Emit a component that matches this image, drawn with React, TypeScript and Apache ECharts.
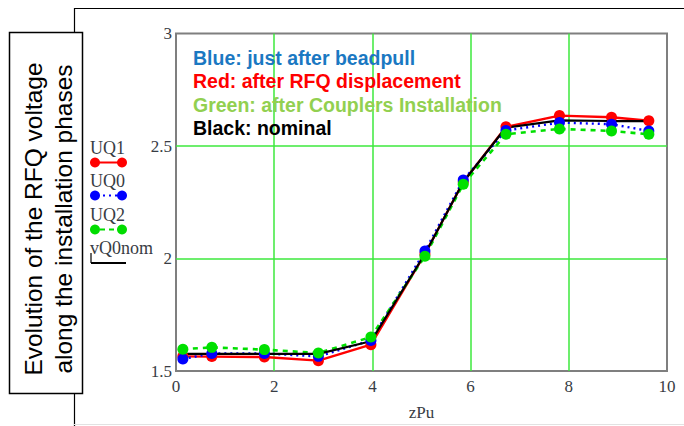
import React, { useEffect, useRef } from "react";
import * as echarts from "echarts";

// Longitudinal positions (zPu) of the measured voltage points
const zPu = [0.14, 0.73, 1.8, 2.9, 3.97, 5.07, 5.85, 6.72, 7.81, 8.87, 9.63];

// Voltage profiles
const UQ1 = [1.565, 1.564, 1.562, 1.546, 1.617, 2.02, 2.34, 2.585, 2.635, 2.628, 2.612];
const UQ0 = [1.553, 1.578, 1.578, 1.565, 1.636, 2.033, 2.349, 2.569, 2.604, 2.597, 2.567];
const UQ2 = [1.597, 1.605, 1.595, 1.58, 1.651, 2.01, 2.33, 2.552, 2.576, 2.567, 2.552];
const vQ0nom = [1.576, 1.576, 1.576, 1.576, 1.632, 2.02, 2.34, 2.582, 2.614, 2.611, 2.611];

// Axis ranges
const xMin = 0, xMax = 10, xStep = 2;
const yMin = 1.5, yMax = 3, yStep = 0.5;

const noteLines = [
  { text: "Blue: just after beadpull", color: "#1a78c2" },
  { text: "Red: after RFQ displacement", color: "#ff0000" },
  { text: "Green: after Couplers Installation", color: "#92d050" },
  { text: "Black: nominal", color: "#000000" },
];

const titleLines = ["Evolution of the RFQ voltage", "along the installation phases"];

const pairs = (ys: number[]) => ys.map((y, i) => [zPu[i], y]);

export default function App() {
  const ref = useRef<HTMLDivElement>(null);

  useEffect(() => {
    if (!ref.current) return;
    const chart = echarts.init(ref.current, null, { renderer: "svg" });
    const serif = "'Liberation Serif', 'DejaVu Serif', serif";
    const tickFont = { fontFamily: serif, fontSize: 17, color: "#383c44" };
    const grid = "#3de83d";

    const legendItems = [
      { name: "UQ1", color: "#ff0000", dash: null as number[] | null, y: 148, dots: true },
      { name: "UQ0", color: "#0000ff", dash: [2, 4], y: 181, dots: true },
      { name: "UQ2", color: "#00dd00", dash: [5, 4], y: 215, dots: true },
      { name: "vQ0nom", color: "#000000", dash: null, y: 248, dots: false },
    ];

    const graphics: any[] = [
      // outer frame
      { type: "line", shape: { x1: 74, y1: 8.5, x2: 684, y2: 8.5 }, style: { stroke: "#000", lineWidth: 1.2 } },
      { type: "line", shape: { x1: 74.5, y1: 8, x2: 74.5, y2: 426 }, style: { stroke: "#000", lineWidth: 1.2 } },
      { type: "line", shape: { x1: 74, y1: 424.5, x2: 684, y2: 424.5 }, style: { stroke: "#e2e2e2", lineWidth: 1 } },
      // title box
      {
        type: "rect",
        shape: { x: 9.5, y: 32.5, width: 73, height: 361 },
        style: { fill: "#fff", stroke: "#000", lineWidth: 1.5 },
      },
      ...titleLines.map((t, i) => ({
        type: "text",
        x: 33 + i * 30,
        y: 219,
        rotation: Math.PI / 2,
        style: {
          text: t,
          fontFamily: "'Liberation Sans', Arial, sans-serif",
          fontSize: 24.5,
          fill: "#000",
          align: "center",
          verticalAlign: "middle",
        },
      })),
    ];

    legendItems.forEach((it) => {
      graphics.push({
        type: "text",
        x: 90,
        y: it.y,
        style: { text: it.name, fontFamily: serif, fontSize: 18, fill: "#383c44", align: "left", verticalAlign: "middle" },
      });
      const ly = it.y + (it.dots ? 14.5 : 15);
      graphics.push({
        type: "line",
        shape: { x1: 91, y1: ly, x2: 126, y2: ly },
        style: { stroke: it.color, lineWidth: 2, lineDash: it.dash || undefined },
      });
      if (it.dots) {
        graphics.push({ type: "circle", shape: { cx: 95, cy: ly, r: 5 }, style: { fill: it.color } });
        graphics.push({ type: "circle", shape: { cx: 122, cy: ly, r: 5 }, style: { fill: it.color } });
      } else {
        graphics.push({
          type: "line",
          shape: { x1: 91, y1: ly - 10, x2: 91, y2: ly },
          style: { stroke: it.color, lineWidth: 1.2 },
        });
      }
    });

    noteLines.forEach((n, i) => {
      graphics.push({
        type: "text",
        x: 193,
        y: 57.5 + i * 23.5,
        z: 10,
        style: {
          text: n.text,
          fontFamily: "'Liberation Sans', Arial, sans-serif",
          fontWeight: "bold",
          fontSize: 19.5,
          fill: n.color,
          align: "left",
          verticalAlign: "middle",
        },
      });
    });

    const mkSeries = (name: string, ys: number[], color: string, type: any, width: number, symbol: boolean) => ({
      name,
      type: "line",
      data: pairs(ys),
      symbol: symbol ? "circle" : "none",
      symbolSize: 11,
      showSymbol: symbol,
      itemStyle: { color },
      lineStyle: { color, width, type },
      emphasis: { disabled: true },
    });

    chart.setOption({
      animation: false,
      grid: {
        left: 176,
        right: 17,
        top: 33.5,
        bottom: 55,
        show: true,
        borderColor: "#7f7f7f",
        borderWidth: 2,
        backgroundColor: "transparent",
      },
      xAxis: {
        type: "value",
        min: xMin,
        max: xMax,
        interval: xStep,
        name: "zPu",
        nameLocation: "middle",
        nameGap: 33,
        nameTextStyle: { ...tickFont, fontSize: 17 },
        axisLine: { show: false },
        axisTick: { show: false },
        axisLabel: { ...tickFont, margin: 7 },
        splitLine: { show: true, showMinLine: false, showMaxLine: false, lineStyle: { color: grid, width: 1.5 } },
      },
      yAxis: {
        type: "value",
        min: yMin,
        max: yMax,
        interval: yStep,
        axisLine: { show: false },
        axisTick: { show: false },
        axisLabel: { ...tickFont, margin: 4 },
        splitLine: { show: true, showMinLine: false, showMaxLine: false, lineStyle: { color: grid, width: 1.5 } },
      },
      series: [
        mkSeries("UQ1", UQ1, "#ff0000", "solid", 2.4, true),
        mkSeries("UQ0", UQ0, "#0000ff", [2, 4], 2.4, true),
        mkSeries("UQ2", UQ2, "#00e000", [5, 5], 2.6, true),
        mkSeries("vQ0nom", vQ0nom, "#000000", "solid", 2.2, false),
      ],
      graphic: graphics,
    });

    return () => chart.dispose();
  }, []);

  return (
    <div
      ref={ref}
      style={{ position: "fixed", left: 0, top: 0, width: 684, height: 426, background: "#fff" }}
    />
  );
}
